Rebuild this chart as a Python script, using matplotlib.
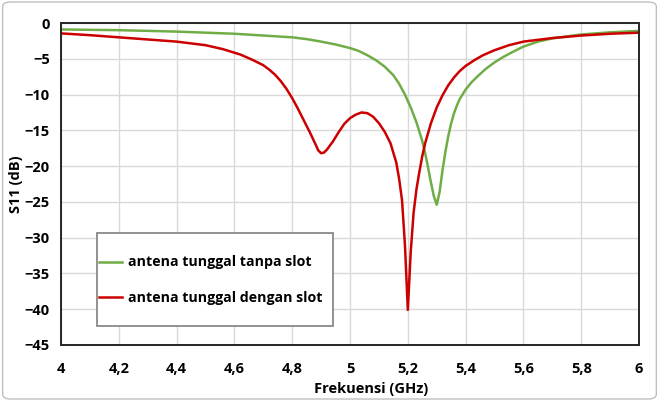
import matplotlib
matplotlib.use("Agg")
import matplotlib.pyplot as plt
from matplotlib.patches import FancyBboxPatch, Rectangle
from matplotlib.ticker import FuncFormatter
import numpy as np

# frekuensi (GHz) dan S11 (dB)
f_tanpa = [4.00, 4.10, 4.20, 4.30, 4.40, 4.50, 4.60, 4.70, 4.80, 4.85, 4.90,
           4.95, 5.00, 5.03, 5.06, 5.09, 5.12, 5.15, 5.17, 5.19, 5.21, 5.23,
           5.25, 5.26, 5.27, 5.28, 5.29, 5.30, 5.31, 5.32, 5.33, 5.34, 5.35,
           5.36, 5.37, 5.38, 5.40, 5.42, 5.44, 5.47, 5.50, 5.53, 5.56, 5.60,
           5.65, 5.70, 5.80, 5.90, 6.00]
s11_tanpa = [-0.9, -0.95, -1.0, -1.1, -1.2, -1.35, -1.5, -1.75, -2.0, -2.25, -2.6,
             -3.0, -3.5, -3.9, -4.5, -5.2, -6.1, -7.3, -8.5, -10.0, -11.8, -13.9,
             -16.5, -18.2, -20.2, -22.3, -24.2, -25.4, -23.6, -20.6, -18.0, -15.8, -14.0,
             -12.6, -11.5, -10.6, -9.3, -8.3, -7.5, -6.4, -5.5, -4.75, -4.1, -3.3,
             -2.6, -2.15, -1.6, -1.3, -1.1]

f_dengan = [4.00, 4.10, 4.20, 4.30, 4.40, 4.50, 4.56, 4.62, 4.66, 4.70, 4.72,
            4.74, 4.76, 4.78, 4.80, 4.82, 4.84, 4.86, 4.88, 4.89, 4.90, 4.91,
            4.92, 4.94, 4.96, 4.98, 5.00, 5.02, 5.04, 5.06, 5.08, 5.10, 5.12,
            5.14, 5.16, 5.17, 5.18, 5.19, 5.20, 5.21, 5.22, 5.23, 5.24, 5.25,
            5.26, 5.28, 5.30, 5.32, 5.34, 5.36, 5.38, 5.40, 5.43, 5.46, 5.50,
            5.55, 5.60, 5.70, 5.80, 5.90, 6.00]
s11_dengan = [-1.45, -1.7, -2.0, -2.3, -2.6, -3.1, -3.65, -4.4, -5.1, -5.9, -6.5,
              -7.2, -8.1, -9.2, -10.5, -12.0, -13.6, -15.2, -16.9, -17.8, -18.2, -18.1,
              -17.7, -16.6, -15.3, -14.1, -13.3, -12.8, -12.5, -12.6, -13.1, -14.0, -15.2,
              -16.8, -19.5, -21.8, -24.8, -31.0, -40.1, -32.0, -26.5, -23.2, -20.8, -18.6,
              -16.8, -14.0, -11.8, -10.1, -8.7, -7.6, -6.7, -6.0, -5.2, -4.5, -3.8,
              -3.1, -2.6, -2.1, -1.75, -1.5, -1.35]

label_tanpa = "antena tunggal tanpa slot"
label_dengan = "antena tunggal dengan slot"

plt.rcParams['font.family'] = ['Open Sans', 'DejaVu Sans']
plt.rcParams['font.weight'] = 'bold'

fig = plt.figure(figsize=(6.59, 4.01), dpi=100)
ax = fig.add_axes([0.0926, 0.1397, 0.8771, 0.8029])

# bingkai luar
frame = FancyBboxPatch((0.004, 0.005), 0.992, 0.99, boxstyle="round,pad=0,rounding_size=0.012",
                       transform=fig.transFigure, facecolor='none', edgecolor='#bfbfbf',
                       linewidth=1.0)
fig.patches.append(frame)

ax.plot(f_tanpa, s11_tanpa, color='#70ad47', lw=1.8, label=label_tanpa,
        solid_joinstyle='round')
ax.plot(f_dengan, s11_dengan, color='#cc0000', lw=1.8, label=label_dengan,
        solid_joinstyle='round')

ax.set_xlim(4, 6)
ax.set_ylim(-45, 0)
ax.set_xticks(np.arange(4, 6.01, 0.2))
ax.set_yticks(np.arange(-45, 1, 5))
ax.xaxis.set_major_formatter(FuncFormatter(lambda v, p: ('%g' % round(v, 1)).replace('.', ',')))
ax.grid(True, color='#d9d9d9', lw=1.0)
ax.set_axisbelow(True)
for s in ax.spines.values():
    s.set_color('#262626')
    s.set_linewidth(1.4)
ax.tick_params(axis='y', length=0, labelsize=10.5, pad=8)
ax.tick_params(axis='x', length=0, labelsize=10.5, pad=12)
for t in ax.get_xticklabels() + ax.get_yticklabels():
    t.set_fontweight('bold')

ax.set_xlabel("Frekuensi (GHz)", fontsize=10.5, fontweight='bold')
ax.xaxis.set_label_coords(0.536, -0.115)
ax.set_ylabel("S11 (dB)", fontsize=10.5, fontweight='bold')
ax.yaxis.set_label_coords(-0.066, 0.5)

# kotak legenda digambar terpisah agar jarak tepi bisa diatur bebas
box = Rectangle((0.062, 0.059), 0.408, 0.289, transform=ax.transAxes,
                facecolor='white', edgecolor='#7f7f7f', lw=1.2, zorder=4)
ax.add_patch(box)
leg = ax.legend(loc='upper left', bbox_to_anchor=(0.066, 0.278), fontsize=10.2,
                frameon=False, handlelength=1.6, handletextpad=0.45,
                borderpad=0, labelspacing=1.55, borderaxespad=0)
leg.set_zorder(5)
for t in leg.get_texts():
    t.set_fontweight('bold')

fig.savefig("out.png", dpi=100)
